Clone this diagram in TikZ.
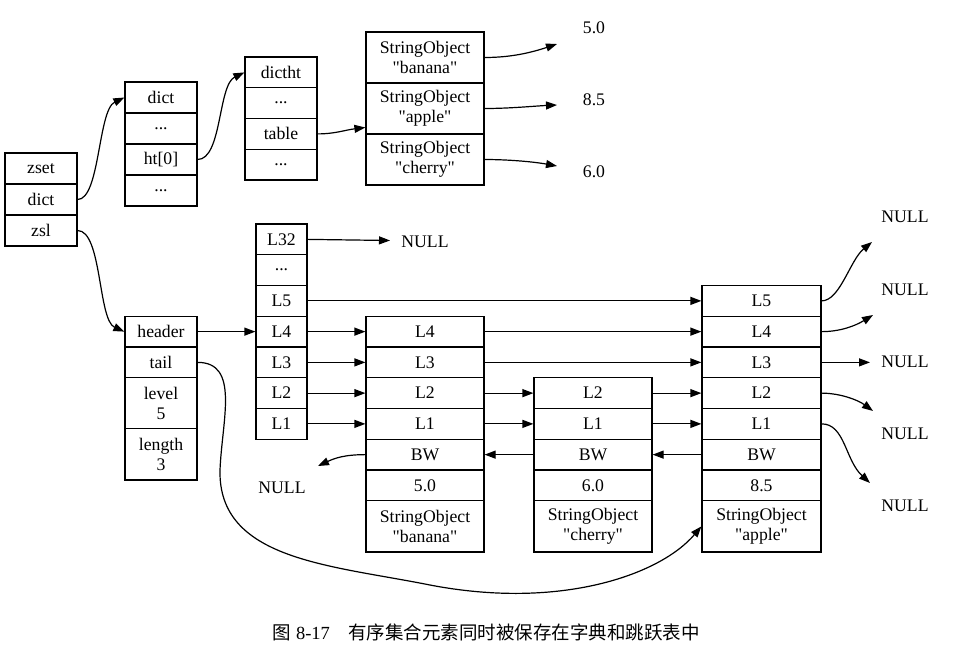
\documentclass[tikz,border=0pt]{standalone}
\usepackage{fontspec}
\setmainfont{Liberation Serif}[Ligatures=TeXOff]
\newfontfamily\cjk{Noto Sans CJK SC}
\usetikzlibrary{arrows.meta,calc}
\begin{document}
\begin{tikzpicture}[x=1pt,y=-1pt,
  cell/.style={draw, line width=1.2pt, rectangle, inner sep=0pt, align=center,
    font=\fontsize{17.7}{20}\selectfont},
  wA/.style={minimum width=72},
  wB/.style={minimum width=118},
  wC/.style={minimum width=51},
  wD/.style={minimum width=119},
  hA/.style={minimum height=31},
  hB/.style={minimum height=30.75},
  hC/.style={minimum height=51.25},
  lbl/.style={inner sep=0pt, font=\fontsize{17.7}{20}\selectfont},
  arr/.style={line width=1.2pt, -{Triangle[length=11pt,width=8pt]}},
]
\useasboundingbox (0,0) rectangle (968,654);

% zset
\node[cell,wA,hA] (zset) at (41,168.5) {zset};
\node[cell,wA,hA] (zdict) at (41,199.5) {dict};
\node[cell,wA,hA] (zzsl) at (41,230.5) {zsl};

% dict
\node[cell,wA,hA] (dictd) at (161,97.5) {dict};
\node[cell,wA,hA] (dicte1) at (161,128.5) {...};
\node[cell,wA,hA] (dictht0) at (161,159.5) {ht[0]};
\node[cell,wA,hA] (dicte2) at (161,190.5) {...};

% dictht
\node[cell,wA,hB] (htd) at (281,72.4) {dictht};
\node[cell,wA,hB] (hte1) at (281,103.1) {...};
\node[cell,wA,hB] (httable) at (281,133.9) {table};
\node[cell,wA,hB] (hte2) at (281,164.6) {...};

% dict entries
\node[cell,wB,minimum height=51] (so1) at (425,57.5) {StringObject\\ "banana"};
\node[cell,wB,minimum height=51] (so2) at (425,108.5) {StringObject\\ "apple"};
\node[cell,wB,minimum height=51] (so3) at (425,159.5) {StringObject\\ "cherry"};

\node[lbl] (v50) at (594,28) {5.0};
\node[lbl] (v85) at (594,100) {8.5};
\node[lbl] (v60) at (594,172) {6.0};
\coordinate (e50) at (557,44);
\coordinate (e85) at (557,105);
\coordinate (e60) at (557,166);
\coordinate (tin) at ($(so2.west)+(0,19)$);

% header levels
\node[cell,wC,hB] (hL32) at (281.5,239.375) {L32};
\node[cell,wC,hB] (hLd) at (281.5,270.125) {...};
\node[cell,wC,hB] (hL5) at (281.5,300.875) {L5};
\node[cell,wC,hB] (hL4) at (281.5,331.625) {L4};
\node[cell,wC,hB] (hL3) at (281.5,362.375) {L3};
\node[cell,wC,hB] (hL2) at (281.5,393.125) {L2};
\node[cell,wC,hB] (hL1) at (281.5,423.875) {L1};

% zskiplist
\node[cell,wA,hB] (header) at (161,331.625) {header};
\node[cell,wA,hB] (tail) at (161,362.375) {tail};
\node[cell,wA,hC] (level) at (161,403.25) {level\\ 5};
\node[cell,wA,hC] (hlen) at (161,454.375) {length\\ 3};

% node 1
\node[cell,wB,hB] (aL4) at (425,331.625) {L4};
\node[cell,wB,hB] (aL3) at (425,362.375) {L3};
\node[cell,wB,hB] (aL2) at (425,393.125) {L2};
\node[cell,wB,hB] (aL1) at (425,423.875) {L1};
\node[cell,wB,hB] (aBW) at (425,454.625) {BW};
\node[cell,wB,hB] (aS) at (425,485.375) {5.0};
\node[cell,wB,hC] (aO) at (425,526.375) {StringObject\\ "banana"};

% node 2
\node[cell,wB,hB] (bL2) at (593,393.125) {L2};
\node[cell,wB,hB] (bL1) at (593,423.875) {L1};
\node[cell,wB,hB] (bBW) at (593,454.625) {BW};
\node[cell,wB,hB] (bS) at (593,485.375) {6.0};
\node[cell,wB,hC] (bO) at (593,526.375) {StringObject\\ "cherry"};

% node 3
\node[cell,wD,hB] (cL5) at (761.5,300.875) {L5};
\node[cell,wD,hB] (cL4) at (761.5,331.625) {L4};
\node[cell,wD,hB] (cL3) at (761.5,362.375) {L3};
\node[cell,wD,hB] (cL2) at (761.5,393.125) {L2};
\node[cell,wD,hB] (cL1) at (761.5,423.875) {L1};
\node[cell,wD,hB] (cBW) at (761.5,454.625) {BW};
\node[cell,wD,hB] (cS) at (761.5,485.375) {8.5};
\node[cell,wD,hC] (cO) at (761.5,526.375) {StringObject\\ "apple"};

% NULL labels
\node[lbl] (null0) at (425,242) {NULL};
\node[lbl] (nullbw) at (282,488) {NULL};
\node[lbl] (n1) at (905,217) {NULL};
\node[lbl] (n2) at (905,290) {NULL};
\node[lbl] (n3) at (905,362) {NULL};
\node[lbl] (n4) at (905,434) {NULL};
\node[lbl] (n5) at (905,506) {NULL};
\coordinate (eL32) at (390,240.5);
\coordinate (eBW) at (318,466);
\coordinate (r1) at (872,242);
\coordinate (r2) at (873,315);
\coordinate (r3) at (870,362.375);
\coordinate (r4) at (873,411);
\coordinate (r5) at (870,483);

% connectors: dict side
\draw[arr] (zdict.east) .. controls (100,199.5) and (98,110) .. (dictd.west);
\draw[arr] (dictht0.east) .. controls (222,159.5) and (218,85) .. (htd.west);
\draw[arr] (httable.east) .. controls (335,133.9) and (345,130) .. (tin);
\draw[arr] (so1.east) .. controls (510,57.5) and (530,53) .. (e50);
\draw[arr] (so2.east) .. controls (510,108.5) and (535,106) .. (e85);
\draw[arr] (so3.east) .. controls (510,159.5) and (535,162) .. (e60);

% skiplist
\draw[arr] (zzsl.east) .. controls (102,230.5) and (98,320) .. (header.west);
\draw[arr] (header.east) -- (hL4.west);
\draw[arr] (hL32.east) -- (eL32);
\draw[arr] (hL5.east) -- (cL5.west);
\draw[arr] (hL4.east) -- (aL4.west);
\draw[arr] (aL4.east) -- (cL4.west);
\draw[arr] (hL3.east) -- (aL3.west);
\draw[arr] (aL3.east) -- (cL3.west);
\draw[arr] (hL2.east) -- (aL2.west);
\draw[arr] (aL2.east) -- (bL2.west);
\draw[arr] (bL2.east) -- (cL2.west);
\draw[arr] (hL1.east) -- (aL1.west);
\draw[arr] (aL1.east) -- (bL1.west);
\draw[arr] (bL1.east) -- (cL1.west);

\draw[arr] (cL5.east) .. controls (840,300.875) and (850,260) .. (r1);
\draw[arr] (cL4.east) .. controls (840,331.625) and (855,326) .. (r2);
\draw[arr] (cL3.east) -- (r3);
\draw[arr] (cL2.east) .. controls (840,393.125) and (858,400) .. (r4);
\draw[arr] (cL1.east) .. controls (845,423.875) and (845,460) .. (r5);

\draw[arr] (cBW.west) -- (bBW.east);
\draw[arr] (bBW.west) -- (aBW.east);
\draw[arr] (aBW.west) .. controls (345,454.625) and (335,458) .. (eBW);

\draw[arr] (tail.east) .. controls (240,362.375) and (222,420) .. (220,470)
  .. controls (218,560) and (330,565) .. (430,585)
  .. controls (560,610) and (660,575) .. (cO.west);

% caption
\node[inner sep=0pt, font=\fontsize{18.5}{22}\selectfont] (cap) at (486,632)
  {{\cjk 图}\hspace{0.3em}8-17\hspace{1em}{\cjk 有序集合元素同时被保存在字典和跳跃表中}};
\end{tikzpicture}
\end{document}
